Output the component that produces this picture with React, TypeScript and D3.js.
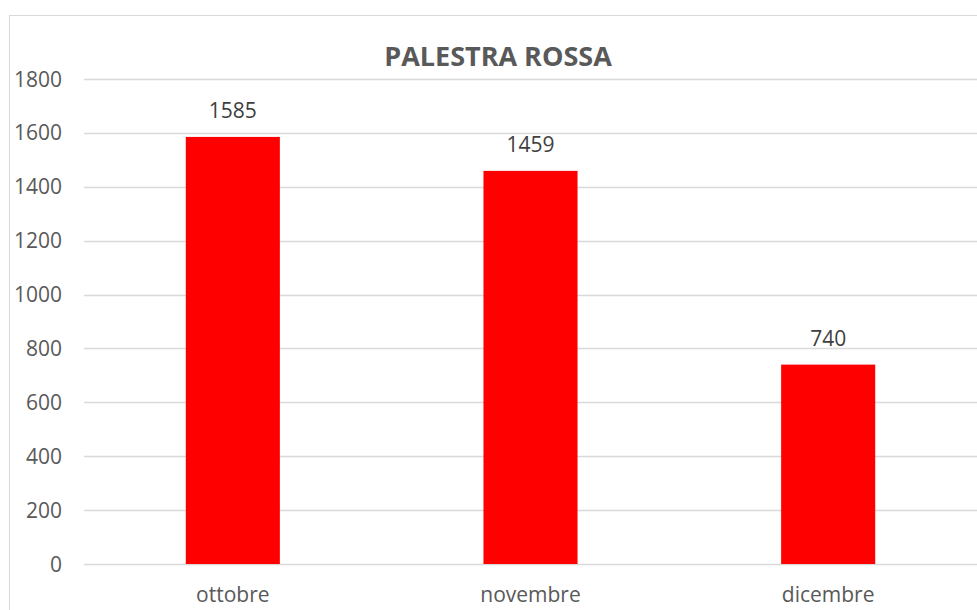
import React, { useEffect, useRef } from 'react';
import * as d3 from 'd3';

const categories = ['ottobre', 'novembre', 'dicembre'];
const values = [1585, 1459, 740];
const yTicks = [0, 200, 400, 600, 800, 1000, 1200, 1400, 1600, 1800];
const title = 'PALESTRA ROSSA';

const App = () => {
  const svgRef = useRef<SVGSVGElement>(null);

  useEffect(() => {
    const svg = d3.select(svgRef.current);
    svg.selectAll('*').remove();

    const width = 977;
    const height = 610;
    const margin = { top: 79, right: 0, bottom: 46, left: 84 };
    const font = "'Open Sans', 'Liberation Sans', sans-serif";

    // chart frame
    svg.append('rect')
      .attr('x', 9.5).attr('y', 15.5)
      .attr('width', 1000).attr('height', 700)
      .attr('fill', '#fff').attr('stroke', '#d9d9d9');

    const x = d3.scaleBand()
      .domain(categories)
      .range([margin.left, width - margin.right])
      .paddingInner(0.684)
      .paddingOuter(0.342);

    const y = d3.scaleLinear()
      .domain([0, 1800])
      .range([height - margin.bottom, margin.top]);

    // gridlines
    svg.append('g')
      .selectAll('line')
      .data(yTicks)
      .enter()
      .append('line')
      .attr('x1', margin.left)
      .attr('x2', width)
      .attr('y1', d => Math.round(y(d)) + 0.5)
      .attr('y2', d => Math.round(y(d)) + 0.5)
      .attr('stroke', '#d9d9d9')
      .attr('stroke-width', 1.5);

    // y tick labels
    svg.append('g')
      .selectAll('text')
      .data(yTicks)
      .enter()
      .append('text')
      .attr('x', 62)
      .attr('y', d => y(d))
      .attr('dy', '0.36em')
      .attr('text-anchor', 'end')
      .attr('font-family', font)
      .attr('font-size', 21)
      .attr('fill', '#595959')
      .text(d => d);

    // bars
    svg.append('g')
      .selectAll('rect')
      .data(values)
      .enter()
      .append('rect')
      .attr('x', (d, i) => x(categories[i])!)
      .attr('y', d => y(d))
      .attr('width', x.bandwidth())
      .attr('height', d => y(0) - y(d))
      .attr('fill', '#ff0000');

    // data labels
    svg.append('g')
      .selectAll('text')
      .data(values)
      .enter()
      .append('text')
      .attr('x', (d, i) => x(categories[i])! + x.bandwidth() / 2)
      .attr('y', d => y(d) - 19)
      .attr('text-anchor', 'middle')
      .attr('font-family', font)
      .attr('font-size', 21)
      .attr('fill', '#404040')
      .text(d => d);

    // category labels
    svg.append('g')
      .selectAll('text')
      .data(categories)
      .enter()
      .append('text')
      .attr('x', d => x(d)! + x.bandwidth() / 2)
      .attr('y', 602)
      .attr('text-anchor', 'middle')
      .attr('font-family', font)
      .attr('font-size', 21)
      .attr('fill', '#595959')
      .text(d => d);

    // title
    svg.append('text')
      .attr('x', 498)
      .attr('y', 66)
      .attr('text-anchor', 'middle')
      .attr('font-family', font)
      .attr('font-size', 27)
      .attr('font-weight', 'bold')
      .attr('fill', '#595959')
      .text(title);
  }, []);

  return (
    <svg
      ref={svgRef}
      width={977}
      height={610}
      style={{ position: 'absolute', left: 0, top: 0, background: '#fff' }}
    />
  );
};

export default App;
